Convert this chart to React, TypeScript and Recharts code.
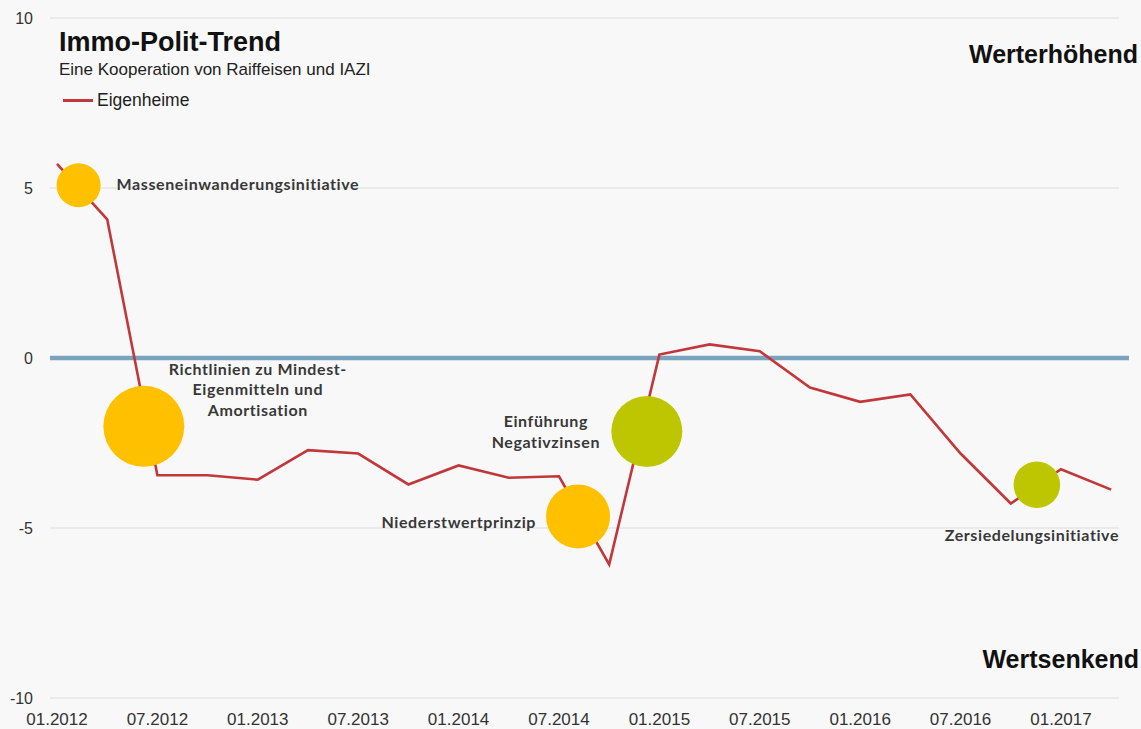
import { ComposedChart, Line, Scatter, XAxis, YAxis, ZAxis, CartesianGrid, ReferenceLine } from 'recharts';

// Immo-Polit-Trend, quarterly values (Q1 2012 .. Q2 2017)
const eigenheime = [
  5.71, 4.08, -3.45, -3.45, -3.58, -2.71, -2.81, -3.72, -3.16, -3.52, -3.48,
  -6.07, 0.1, 0.4, 0.2, -0.87, -1.29, -1.07, -2.81, -4.28, -3.27, -3.87,
];

const tickLabels = [
  '01.2012', '07.2012', '01.2013', '07.2013', '01.2014', '07.2014',
  '01.2015', '07.2015', '01.2016', '07.2016', '01.2017',
];
const yTicks = [-10, -5, 0, 5, 10];

// political events (x = quarter position, y = trend level, z = bubble weight)
const eventNames = [
  'Masseneinwanderungsinitiative',
  'Richtlinien zu Mindest-\nEigenmitteln und\nAmortisation',
  'Niederstwertprinzip',
  'Einführung\nNegativzinsen',
  'Zersiedelungsinitiative',
];
const eventX = [0.43, 1.73, 10.38, 11.75, 19.52];
const eventY = [5.08, -2.01, -4.66, -2.16, -3.73];
const eventWeight = [4.84, 16.4, 10.24, 12.6, 5.43];

const lineData = eigenheime.map((v, i) => ({ x: i, y: v }));
const eventData = eventNames.map((name, i) => ({ name, x: eventX[i], y: eventY[i], z: eventWeight[i] }));

const eventFill = ['#FFC000', '#FFC000', '#FFC000', '#BDC600', '#BDC600'];
const labelLayout = [
  { dx: 38, dy: -1, anchor: 'start' },
  { dx: 114, dy: -57, anchor: 'middle' },
  { dx: -42, dy: 6, anchor: 'end' },
  { dx: -101, dy: -10, anchor: 'middle' },
  { dx: -5, dy: 51, anchor: 'middle' },
];

const font = '"Liberation Sans", Arial, sans-serif';

function EventBubble(props: any) {
  const { cx, cy, size, index } = props;
  const r = Math.sqrt(size / Math.PI);
  const lay = labelLayout[index];
  const lines = eventNames[index].split('\n');
  return (
    <g>
      <circle cx={cx} cy={cy} r={r} fill={eventFill[index]} />
      <text
        x={cx + lay.dx}
        y={cy + lay.dy}
        textAnchor={lay.anchor}
        fontFamily="Lato, sans-serif"
        fontWeight={700}
        fontSize={16}
        letterSpacing={0.6}
        fill="#383838"
      >
        {lines.map((l, i) => (
          <tspan key={i} x={cx + lay.dx} dy={i === 0 ? '0.35em' : 20.5}>
            {l}
          </tspan>
        ))}
      </text>
    </g>
  );
}

export default function App() {
  return (
    <div style={{ position: 'absolute', left: 0, top: 0, width: 1141, height: 729, background: '#f8f8f8', fontFamily: font }}>
      <ComposedChart width={1141} height={729} margin={{ top: 18, right: 22, bottom: 1, left: 0 }}>
        <CartesianGrid vertical={false} stroke="#e6e6e6" strokeWidth={1.5} />
        <XAxis
          type="number"
          dataKey="x"
          domain={[-0.1394, 21.156]}
          allowDataOverflow
          ticks={tickLabels.map((_, i) => i * 2)}
          tickFormatter={(v: number) => tickLabels[v / 2]}
          axisLine={false}
          tickLine={false}
          tickMargin={9}
          height={30}
          tick={{ fontSize: 17, fill: '#333', fontFamily: font }}
          interval={0}
        />
        <YAxis
          type="number"
          domain={[-10, 10]}
          ticks={yTicks}
          width={50}
          axisLine={false}
          tickLine={false}
          tickMargin={11}
          tick={{ fontSize: 16, fill: '#333', fontFamily: font }}
        />
        <ZAxis type="number" dataKey="z" domain={[0, 20]} range={[0, 2000 * Math.PI]} />
        <ReferenceLine
          segment={[{ x: -0.1394, y: 0 }, { x: 21.355, y: 0 }]}
          ifOverflow="visible"
          stroke="#7aa3bf"
          strokeWidth={4.5}
        />
        <Line
          data={lineData}
          dataKey="y"
          type="linear"
          stroke="#c1373a"
          strokeWidth={2.6}
          dot={false}
          activeDot={false}
          isAnimationActive={false}
        />
        <Scatter data={eventData} dataKey="y" shape={<EventBubble />} isAnimationActive={false} />
      </ComposedChart>

      <div style={{ position: 'absolute', left: 59, top: 27, fontSize: 27, fontWeight: 700, color: '#111', whiteSpace: 'nowrap' }}>
        Immo-Polit-Trend
      </div>
      <div style={{ position: 'absolute', left: 59, top: 60, fontSize: 17, color: '#222', whiteSpace: 'nowrap' }}>
        Eine Kooperation von Raiffeisen und IAZI
      </div>
      <div style={{ position: 'absolute', left: 63, top: 90, display: 'flex', alignItems: 'center', fontSize: 17.5, color: '#222' }}>
        <span style={{ display: 'inline-block', width: 30, height: 3, background: '#c1373a', marginRight: 4 }} />
        Eigenheime
      </div>
      <div style={{ position: 'absolute', right: 3, top: 40, fontSize: 25, fontWeight: 700, color: '#111' }}>
        Werterhöhend
      </div>
      <div style={{ position: 'absolute', right: 2, top: 645, fontSize: 25, fontWeight: 700, color: '#111' }}>
        Wertsenkend
      </div>
    </div>
  );
}
